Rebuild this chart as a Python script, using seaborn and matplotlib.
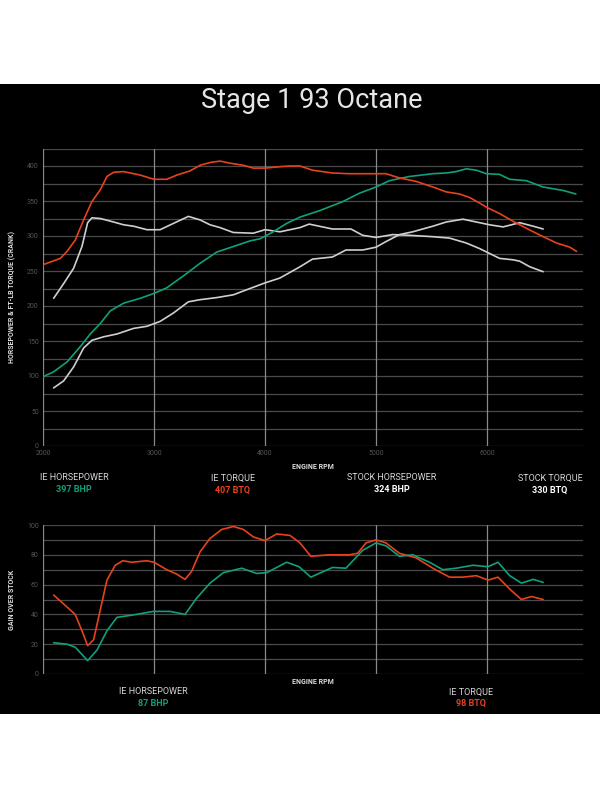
import numpy as np
import pandas as pd
import seaborn as sns
import matplotlib.pyplot as plt
from matplotlib.patches import Rectangle

# --- data ---
ie_tq_rpm = [2000, 2156, 2216, 2290, 2366, 2440, 2516, 2576, 2636, 2726, 2876, 3000, 3115, 3205, 3325,
             3415, 3505, 3595, 3685, 3805, 3895, 4000, 4135, 4225, 4315, 4428, 4608, 4759, 5000, 5090,
             5211, 5361, 5512, 5633, 5753, 5843, 5934, 6009, 6114, 6235, 6355, 6506, 6627, 6747, 6807]
ie_tq = [259, 268, 278, 294, 323, 349, 366, 385, 391, 392, 387, 381, 381, 387, 393,
         401, 405, 407, 404, 401, 397, 397, 399, 400, 400, 394, 390, 389, 389, 389,
         383, 378, 370, 363, 360, 355, 347, 340, 332, 321, 311, 299, 290, 284, 278]

ie_hp_rpm = [2000, 2096, 2216, 2336, 2426, 2516, 2606, 2726, 2876, 3000, 3115, 3265, 3415, 3565, 3715,
             3865, 3955, 4075, 4195, 4315, 4488, 4699, 4849, 5000, 5120, 5301, 5512, 5633, 5723, 5813,
             5904, 5994, 6114, 6205, 6355, 6506, 6687, 6801]
ie_hp = [99, 106, 120, 142, 160, 175, 193, 204, 211, 218, 226, 243, 261, 277, 285,
         293, 296, 306, 318, 327, 336, 349, 361, 370, 379, 385, 389, 390, 392, 396,
         394, 389, 388, 381, 379, 370, 365, 360]

stock_tq_rpm = [2096, 2186, 2276, 2351, 2402, 2441, 2516, 2636, 2726, 2816, 2936, 3055, 3175, 3310, 3415,
                3505, 3595, 3715, 3895, 4000, 4135, 4315, 4398, 4488, 4608, 4774, 4880, 5000, 5151, 5301,
                5512, 5663, 5813, 5934, 6024, 6114, 6235, 6295, 6386, 6506]
stock_tq = [211, 232, 254, 285, 319, 326, 325, 320, 316, 314, 309, 309, 318, 328, 323,
            316, 312, 305, 304, 309, 306, 312, 317, 314, 310, 310, 301, 298, 302, 301,
            299, 297, 290, 282, 275, 268, 266, 264, 256, 249]

stock_hp_rpm = [2096, 2186, 2276, 2366, 2441, 2546, 2666, 2816, 2936, 3055, 3175, 3310, 3415, 3565, 3715,
                3865, 4000, 4135, 4315, 4428, 4608, 4729, 4880, 5000, 5090, 5211, 5331, 5512, 5633, 5783,
                5904, 6024, 6145, 6295, 6416, 6506]
stock_hp = [83, 93, 113, 140, 151, 156, 160, 168, 171, 178, 190, 206, 209, 212, 216,
            225, 233, 240, 256, 267, 270, 280, 280, 284, 292, 302, 306, 314, 320, 324,
            320, 316, 313, 319, 314, 310]

gain_tq_rpm = [2096, 2186, 2290, 2351, 2402, 2456, 2516, 2576, 2651, 2720, 2801, 2936, 3000, 3115, 3205,
               3280, 3340, 3415, 3505, 3610, 3715, 3805, 3895, 4000, 4105, 4225, 4315, 4413, 4578, 4759,
               4834, 4910, 5000, 5090, 5211, 5361, 5512, 5663, 5783, 5904, 6009, 6099, 6205, 6310, 6400,
               6506]
gain_tq = [53, 47, 40, 29, 19, 23, 43, 63, 73, 76, 75, 76, 75, 70, 67,
           63.5, 69, 82, 91, 97, 99, 97, 92, 89.5, 94, 93, 88, 79, 80, 80,
           81, 88, 90, 88, 81, 78, 71, 65, 65, 66, 63, 65, 57, 50, 52,
           50]

gain_hp_rpm = [2096, 2216, 2290, 2402, 2486, 2576, 2666, 2801, 2994, 3145, 3280, 3385, 3505, 3625, 3790,
               3925, 4015, 4195, 4307, 4413, 4608, 4729, 4880, 5000, 5090, 5211, 5331, 5482, 5602, 5723,
               5873, 6009, 6099, 6205, 6310, 6416, 6506]
gain_hp = [21, 20, 18, 9, 16, 29, 38, 39.5, 42, 42, 40, 51, 61, 68, 71,
           67.5, 68, 75, 72, 65, 71.5, 71, 83, 88, 86, 79, 80, 75, 70, 71,
           73, 72, 75, 66, 61, 63.5, 61.5]

legend_top = [("IE HORSEPOWER", "397 BHP"), ("IE TORQUE", "407 BTQ"),
              ("STOCK HORSEPOWER", "324 BHP"), ("STOCK TORQUE", "330 BTQ")]
legend_bot = [("IE HORSEPOWER", "87 BHP"), ("IE TORQUE", "98 BTQ")]

GREEN = "#10a07c"
ORANGE = "#e8421d"
GREY = "#cfcfcf"

sns.set_theme(style="dark", rc={"axes.facecolor": "black", "figure.facecolor": "white"})
plt.rcParams["font.family"] = ["Roboto", "DejaVu Sans"]

fig = plt.figure(figsize=(6, 7.99), dpi=100)
fig.patches.append(Rectangle((0, 1 - 714 / 799), 1, (714 - 84) / 799, transform=fig.transFigure,
                             facecolor="black", edgecolor="none", zorder=-5))

fig.text(0.52, 1 - 101 / 799, "Stage 1 93 Octane", color="#e6e6e6", fontsize=19.5,
         ha="center", va="center")


def style_axes(ax, ymax, ystep_minor, ystep_major, show_xlabels):
    ax.set_facecolor("black")
    ax.set_xlim(2000, 6865)
    ax.set_ylim(0, ymax)
    for s in ax.spines.values():
        s.set_visible(False)
    for y in np.arange(0, ymax + 0.1, ystep_minor):
        ax.axhline(y, color="#4a4a4a", lw=0.9, zorder=1)
    for x in [2000, 3000, 4000, 5000, 6000]:
        ax.axvline(x, color="#8a8a8a", lw=0.9, zorder=1)
    ax.set_yticks(np.arange(0, ymax + 0.1, ystep_major))
    ax.set_xticks([2000, 3000, 4000, 5000, 6000])
    ax.tick_params(axis="both", colors="#555555", labelsize=5, length=0, pad=3)
    if not show_xlabels:
        ax.set_xticklabels([])
    ax.grid(False)


# --- top chart ---
ax1 = fig.add_axes([43 / 600, 1 - 446 / 799, 540 / 600, (446 - 148.5) / 799])
style_axes(ax1, 425, 25, 50, True)
ax1.set_yticks(np.arange(0, 401, 50))
for xs, ys, c in [(stock_hp_rpm, stock_hp, GREY), (stock_tq_rpm, stock_tq, GREY),
                  (ie_hp_rpm, ie_hp, GREEN), (ie_tq_rpm, ie_tq, ORANGE)]:
    sns.lineplot(x=xs, y=ys, ax=ax1, color=c, lw=1.2, zorder=3)
ax1.set_xlabel("ENGINE RPM", color="#dddddd", fontsize=5, fontweight="bold", labelpad=4)
ax1.set_ylabel("HORSEPOWER & FT-LB TORQUE (CRANK)", color="#dddddd", fontsize=5,
               fontweight="bold", labelpad=8)

top_x = [74, 233, 392, 550]
top_c = [GREEN, ORANGE, "white", "white"]
for (lab, val), x, c in zip(legend_top, top_x, top_c):
    fig.text(x / 600, 1 - 478 / 799, lab, color="#d8d8d8", fontsize=6.5, ha="center", va="center")
    fig.text(x / 600, 1 - 490 / 799, val, color=c, fontsize=6.5, fontweight="bold",
             ha="center", va="center")

# --- bottom chart ---
ax2 = fig.add_axes([43 / 600, 1 - 674 / 799, 540 / 600, (674 - 525) / 799])
style_axes(ax2, 100, 10, 20, False)
sns.lineplot(x=gain_tq_rpm, y=gain_tq, ax=ax2, color=ORANGE, lw=1.2, zorder=3)
sns.lineplot(x=gain_hp_rpm, y=gain_hp, ax=ax2, color=GREEN, lw=1.2, zorder=3)
ax2.set_xlabel("ENGINE RPM", color="#dddddd", fontsize=5, fontweight="bold", labelpad=0)
ax2.set_ylabel("GAIN OVER STOCK", color="#dddddd", fontsize=5, fontweight="bold", labelpad=8)

bot_x = [153, 471]
bot_c = [GREEN, ORANGE]
for (lab, val), x, c in zip(legend_bot, bot_x, bot_c):
    fig.text(x / 600, 1 - 692 / 799, lab, color="#d8d8d8", fontsize=6.5, ha="center", va="center")
    fig.text(x / 600, 1 - 703 / 799, val, color=c, fontsize=6.5, fontweight="bold",
             ha="center", va="center")

fig.savefig("out.png", dpi=100, facecolor="white")
